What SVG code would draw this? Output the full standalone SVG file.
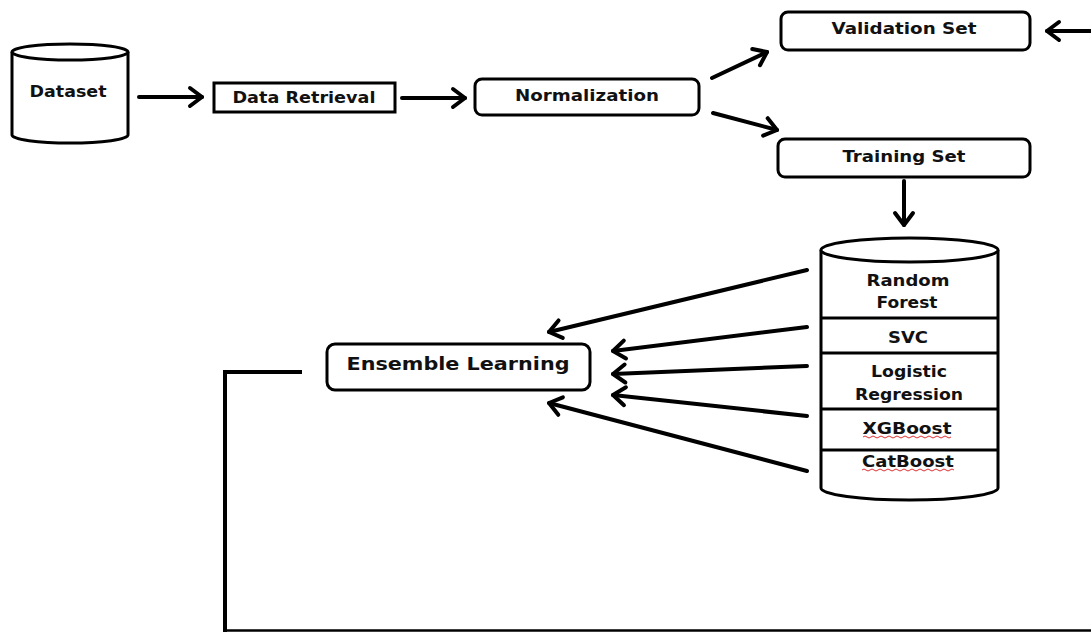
<svg xmlns="http://www.w3.org/2000/svg" width="1091" height="632" viewBox="0 0 1091 632">
<style>
.box{fill:#fff;stroke:#000;stroke-width:3}
.lbl{font-family:"DejaVu Sans",Verdana,sans-serif;font-weight:bold;font-size:15px;fill:#111;text-anchor:middle}
.big{font-size:18px}
.con{stroke:#000;stroke-width:4;fill:none;stroke-linecap:round}
.sq{stroke:#e03030;stroke-width:1;fill:none}
</style>
<defs>
<marker id="ah" markerUnits="userSpaceOnUse" markerWidth="22" markerHeight="24" viewBox="0 0 22 24" refX="18" refY="12" orient="auto">
<path d="M6,3 L18,12 L6,21" fill="none" stroke="#000" stroke-width="4" stroke-linecap="round" stroke-linejoin="round"/>
</marker>
</defs>
<rect width="1091" height="632" fill="#fff"/>
<g id="dataset">
<path class="box" d="M12,52 L12,135 A58,8 0 0,0 128,135 L128,52"/>
<ellipse class="box" cx="70" cy="52" rx="58" ry="8"/>
<text class="lbl" x="68" y="97" textLength="77" lengthAdjust="spacingAndGlyphs">Dataset</text>
</g>
<g id="data-retrieval">
<rect class="box" x="214" y="83" width="181" height="29"/>
<text class="lbl" x="304" y="103" textLength="143" lengthAdjust="spacingAndGlyphs">Data Retrieval</text>
</g>
<g id="normalization">
<rect class="box" x="475" y="79" width="224" height="36" rx="7"/>
<text class="lbl" x="587" y="101" textLength="144" lengthAdjust="spacingAndGlyphs">Normalization</text>
</g>
<g id="validation-set">
<rect class="box" x="781" y="12" width="249" height="38" rx="7"/>
<text class="lbl" x="904" y="34" textLength="145" lengthAdjust="spacingAndGlyphs">Validation Set</text>
</g>
<g id="training-set">
<rect class="box" x="778" y="139" width="252" height="38" rx="7"/>
<text class="lbl" x="904" y="162" textLength="123" lengthAdjust="spacingAndGlyphs">Training Set</text>
</g>
<g id="classifiers">
<path class="box" d="M821,250 L821,488 A88.5,12 0 0,0 998,488 L998,250"/>
<ellipse class="box" cx="909.5" cy="250" rx="88.5" ry="12"/>
<line x1="821" y1="318" x2="998" y2="318" stroke="#000" stroke-width="3"/>
<line x1="821" y1="353" x2="998" y2="353" stroke="#000" stroke-width="3"/>
<line x1="821" y1="409" x2="998" y2="409" stroke="#000" stroke-width="3"/>
<line x1="821" y1="450" x2="998" y2="450" stroke="#000" stroke-width="3"/>
<text class="lbl" x="908" y="286" textLength="83" lengthAdjust="spacingAndGlyphs">Random</text>
<text class="lbl" x="907" y="308" textLength="61" lengthAdjust="spacingAndGlyphs">Forest</text>
<text class="lbl" x="908" y="343" textLength="40" lengthAdjust="spacingAndGlyphs">SVC</text>
<text class="lbl" x="909" y="377" textLength="76" lengthAdjust="spacingAndGlyphs">Logistic</text>
<text class="lbl" x="909" y="400" textLength="108" lengthAdjust="spacingAndGlyphs">Regression</text>
<text class="lbl" x="907" y="434" textLength="89" lengthAdjust="spacingAndGlyphs">XGBoost</text>
<path class="sq" d="M863,437 q2,-2 4,0 t4,0 t4,0 t4,0 t4,0 t4,0 t4,0 t4,0 t4,0 t4,0 t4,0 t4,0 t4,0 t4,0 t4,0 t4,0 t4,0 t4,0 t4,0 t4,0 t4,0 t4,0"/>
<text class="lbl" x="908" y="467" textLength="92" lengthAdjust="spacingAndGlyphs">CatBoost</text>
<path class="sq" d="M862,470 q2,-2 4,0 t4,0 t4,0 t4,0 t4,0 t4,0 t4,0 t4,0 t4,0 t4,0 t4,0 t4,0 t4,0 t4,0 t4,0 t4,0 t4,0 t4,0 t4,0 t4,0 t4,0 t4,0 t4,0"/>
</g>
<g id="ensemble-learning">
<rect class="box" x="327" y="344" width="263" height="46" rx="8"/>
<text class="lbl big" x="458" y="370" textLength="223" lengthAdjust="spacingAndGlyphs">Ensemble Learning</text>
</g>
<g id="connectors">
<line class="con" x1="139" y1="97" x2="202" y2="97" marker-end="url(#ah)"/>
<line class="con" x1="402" y1="98" x2="465" y2="98" marker-end="url(#ah)"/>
<line class="con" x1="712" y1="78" x2="767" y2="52" marker-end="url(#ah)"/>
<line class="con" x1="713" y1="113" x2="777" y2="130" marker-end="url(#ah)"/>
<line class="con" x1="1091" y1="31" x2="1047" y2="31" marker-end="url(#ah)"/>
<line class="con" x1="904" y1="181" x2="904" y2="225" stroke-width="5" marker-end="url(#ah)"/>
<line class="con" x1="807" y1="270" x2="549" y2="332" marker-end="url(#ah)"/>
<line class="con" x1="807" y1="327" x2="613" y2="351" marker-end="url(#ah)"/>
<line class="con" x1="807" y1="366" x2="613" y2="374" marker-end="url(#ah)"/>
<line class="con" x1="807" y1="416" x2="613" y2="395" marker-end="url(#ah)"/>
<line class="con" x1="807" y1="471" x2="549" y2="403" marker-end="url(#ah)"/>
<path d="M302,372 L225,372 L225,632" fill="none" stroke="#000" stroke-width="4"/>
<line x1="225" y1="630.5" x2="1091" y2="630.5" stroke="#000" stroke-width="2.5"/>
</g>
</svg>
